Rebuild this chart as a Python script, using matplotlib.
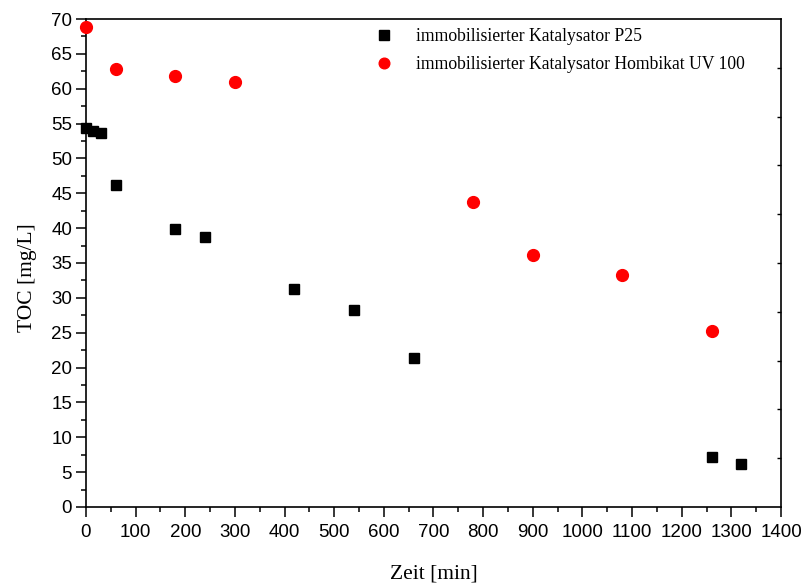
import matplotlib
matplotlib.use("Agg")
import matplotlib.pyplot as plt
from matplotlib.ticker import MultipleLocator

# Data
p25_time = [0, 15, 30, 60, 180, 240, 420, 540, 660, 1260, 1320]
p25_toc = [54.4, 53.9, 53.7, 46.2, 39.9, 38.8, 31.3, 28.3, 21.3, 7.2, 6.1]
uv_time = [0, 60, 180, 300, 780, 900, 1080, 1260]
uv_toc = [68.9, 62.9, 61.8, 60.9, 43.8, 36.1, 33.3, 25.3]

label_p25 = "immobilisierter Katalysator P25"
label_uv = "immobilisierter Katalysator Hombikat UV 100"

fig = plt.figure(figsize=(8.05, 5.83), dpi=100)
ax = fig.add_axes([0.1068, 0.1304, 0.8634, 0.8370])

ax.plot(p25_time, p25_toc, linestyle="none", marker="s", markersize=7.5,
        color="black", label=label_p25, clip_on=False, zorder=3)
ax.plot(uv_time, uv_toc, linestyle="none", marker="o", markersize=8.5,
        color="#ff0000", markeredgecolor="#ff0000", label=label_uv, clip_on=False, zorder=3)

ax.set_xlim(0, 1400)
ax.set_ylim(0, 70)
ax.xaxis.set_major_locator(MultipleLocator(100))
ax.xaxis.set_minor_locator(MultipleLocator(50))
ax.yaxis.set_major_locator(MultipleLocator(5))
ax.yaxis.set_minor_locator(MultipleLocator(2.5))

for s in ax.spines.values():
    s.set_linewidth(1.2)

ax.tick_params(which="major", direction="out", length=7, width=1.1,
               labelsize=13.5, pad=3, top=False, right=False)
ax.tick_params(which="minor", direction="out", length=3.6, width=1.1,
               top=False, right=False)
ax.tick_params(axis="x", which="major", pad=5)
for lbl in ax.get_xticklabels() + ax.get_yticklabels():
    lbl.set_fontfamily("Liberation Sans")

ax.set_xlabel("Zeit [min]", fontfamily="Liberation Serif", fontsize=15.5)
ax.set_ylabel("TOC [mg/L]", fontfamily="Liberation Serif", fontsize=15.5)
ax.xaxis.set_label_coords(0.5, -0.137)
ax.xaxis.label.set_va("center")
ax.yaxis.set_label_coords(-0.084, 0.471)
ax.yaxis.label.set_va("center")

ax2 = ax.twinx()
ax2.set_ylim(0, 10)
ax2.set_yticks(range(1, 10))
ax2.set_yticklabels([])
ax2.tick_params(axis="y", direction="in", length=3, width=1.0)
for s in ax2.spines.values():
    s.set_visible(False)

ax.legend(loc="upper left", bbox_to_anchor=(0.398, 1.006), frameon=False,
          prop={"family": "Liberation Serif", "size": 12.7},
          handletextpad=1.35, labelspacing=0.6, borderaxespad=0.3,
          handlelength=1.0, numpoints=1, markerscale=0.9)

fig.savefig("out.png", dpi=100)
